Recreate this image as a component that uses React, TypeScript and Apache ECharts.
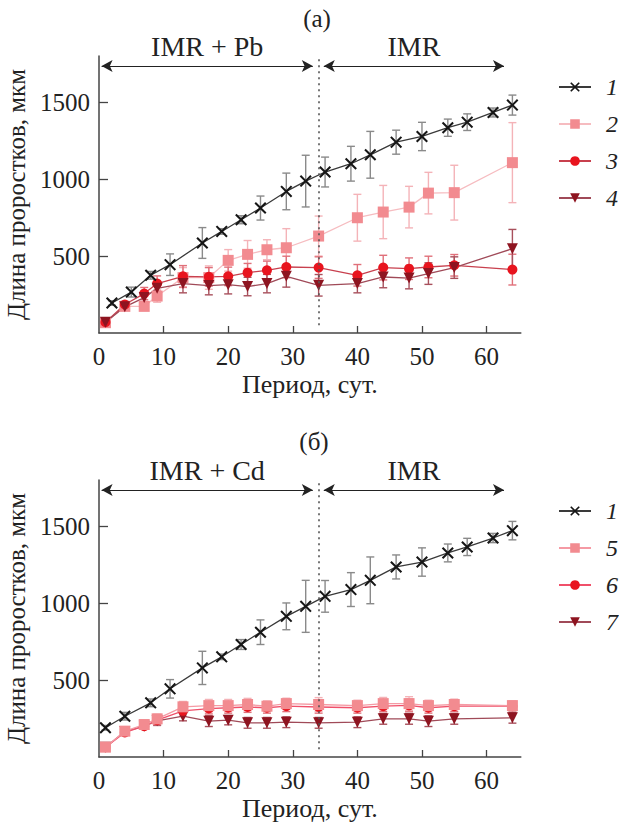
import React, { useEffect, useRef } from "react";
import * as echarts from "echarts";

// ---- Data (panel a) ----
const daysA1 = [2, 5, 8, 11, 16, 19, 22, 25, 29, 32, 35, 39, 42, 46, 50, 54, 57, 61, 64];
const lenA1 = [195, 266, 375, 444, 585, 660, 736, 812, 920, 987, 1046, 1100, 1158, 1240, 1277, 1334, 1370, 1433, 1481];
const errA1 = [15, 32, 25, 70, 100, 18, 26, 78, 119, 168, 97, 113, 152, 78, 92, 56, 54, 29, 65];

const daysA = [1, 4, 7, 9, 13, 17, 20, 23, 26, 29, 34, 40, 44, 48, 51, 55, 64];
const lenA2 = [67, 173, 173, 240, 360, 360, 472, 511, 541, 554, 630, 749, 786, 818, 909, 912, 1107];
const errA2 = [15, 25, 25, 40, 65, 76, 70, 90, 65, 124, 130, 152, 173, 135, 135, 178, 260];
const lenA3 = [70, 185, 256, 321, 368, 365, 368, 392, 407, 429, 425, 375, 425, 418, 429, 440, 412];
const errA3 = [10, 20, 40, 50, 70, 60, 60, 60, 60, 70, 70, 70, 80, 70, 70, 70, 100];
const lenA4 = [70, 170, 230, 290, 321, 308, 314, 302, 321, 368, 310, 321, 364, 357, 386, 425, 548];
const errA4 = [10, 20, 30, 40, 60, 60, 60, 60, 60, 70, 70, 60, 70, 70, 70, 70, 125];

// ---- Data (panel б) ----
const daysB1 = [1, 4, 8, 11, 16, 19, 22, 25, 29, 32, 35, 39, 42, 46, 50, 54, 57, 61, 64];
const lenB1 = [190, 265, 352, 443, 579, 651, 731, 811, 914, 979, 1044, 1088, 1148, 1235, 1267, 1326, 1365, 1423, 1471];
const errB1 = [15, 25, 25, 60, 108, 18, 32, 80, 87, 169, 103, 110, 152, 78, 92, 58, 56, 30, 60];

const daysB = [1, 4, 7, 9, 13, 17, 20, 23, 26, 29, 34, 40, 44, 48, 51, 55, 64];
const lenB5 = [64, 168, 211, 248, 326, 334, 334, 341, 330, 347, 341, 334, 347, 347, 334, 341, 334];
const errB5 = [10, 15, 25, 30, 35, 40, 40, 40, 35, 35, 45, 35, 40, 45, 35, 35, 30];
const lenB6 = [64, 160, 200, 240, 300, 315, 320, 325, 320, 330, 325, 320, 330, 335, 320, 330, 330];
const errB6 = [10, 15, 20, 30, 35, 35, 35, 35, 35, 35, 40, 35, 35, 40, 35, 35, 30];
const lenB7 = [64, 165, 200, 235, 265, 233, 239, 222, 222, 226, 222, 226, 248, 248, 233, 248, 255];
const errB7 = [10, 15, 20, 30, 30, 35, 30, 35, 35, 35, 35, 35, 35, 35, 35, 35, 35];

const xTicks = [0, 10, 20, 30, 40, 50, 60];
const yTicks = [500, 1000, 1500];
const switchDay = 34;
const legendA = ["1", "2", "3", "4"];
const legendB = ["1", "5", "6", "7"];

const FONT = "'Liberation Serif', 'Times New Roman', serif";
const X_SYMBOL = "path://M0,1.2L1.2,0L5,3.8L8.8,0L10,1.2L6.2,5L10,8.8L8.8,10L5,6.2L1.2,10L0,8.8L3.8,5Z";

const styles: Record<string, any> = {
  "1": { symbol: X_SYMBOL, size: 12, color: "#161616", line: "#3a3a3a", err: "#8a8a8a", rot: 0 },
  "2": { symbol: "rect", size: 11, color: "#f28b90", line: "#f6bcc0", err: "#f4b3b8", rot: 0 },
  "5": { symbol: "rect", size: 11, color: "#f28b90", line: "#f59aa4", err: "#f4b3b8", rot: 0 },
  "3": { symbol: "circle", size: 10, color: "#e8141e", line: "#c8404e", err: "#e0707a", rot: 0 },
  "6": { symbol: "circle", size: 10, color: "#e8141e", line: "#f0506a", err: "#e0707a", rot: 0 },
  "4": { symbol: "triangle", size: 11, color: "#8e1420", line: "#a04a58", err: "#a8505c", rot: 180 },
  "7": { symbol: "triangle", size: 11, color: "#8e1420", line: "#a04a58", err: "#a8505c", rot: 180 },
};

function makeSeries(name: string, days: number[], vals: number[], errs: number[], idx: number) {
  const st = styles[name];
  const line = {
    type: "line",
    name,
    xAxisIndex: idx,
    yAxisIndex: idx,
    data: days.map((d, i) => [d, vals[i]]),
    symbol: st.symbol,
    symbolSize: st.size,
    symbolRotate: st.rot,
    itemStyle: { color: st.color },
    lineStyle: { color: st.line, width: 1.3 },
    z: 3,
  };
  const err = {
    type: "custom",
    name: name + "-err",
    xAxisIndex: idx,
    yAxisIndex: idx,
    data: days.map((d, i) => [d, vals[i] - errs[i], vals[i] + errs[i]]),
    z: 2,
    silent: true,
    renderItem: (params: any, api: any) => {
      const x = api.value(0);
      const p1 = api.coord([x, api.value(2)]);
      const p2 = api.coord([x, api.value(1)]);
      const hw = 4;
      const s = { stroke: st.err, lineWidth: 1.4 };
      return {
        type: "group",
        children: [
          { type: "line", shape: { x1: p1[0], y1: p1[1], x2: p2[0], y2: p2[1] }, style: s },
          { type: "line", shape: { x1: p1[0] - hw, y1: p1[1], x2: p1[0] + hw, y2: p1[1] }, style: s },
          { type: "line", shape: { x1: p2[0] - hw, y1: p2[1], x2: p2[0] + hw, y2: p2[1] }, style: s },
        ],
      };
    },
  };
  return [err, line];
}

function markSeries(idx: number, leftLabel: string) {
  const arrowY = 1735;
  const lbl = { show: true, position: "middle", distance: 6, color: "#222", fontFamily: FONT, fontSize: 28 };
  return {
    type: "line",
    name: "marks" + idx,
    xAxisIndex: idx,
    yAxisIndex: idx,
    data: [],
    silent: true,
    markLine: {
      silent: true,
      animation: false,
      data: [
        [
          { coord: [switchDay, 50], symbol: "none", lineStyle: { type: [2, 4], color: "#555", width: 1.6 }, label: { show: false } },
          { coord: [switchDay, 1790], symbol: "none" },
        ],
        [
          { coord: [0.4, arrowY], symbol: "arrow", lineStyle: { type: "solid", color: "#222", width: 1.2 }, label: { ...lbl, formatter: leftLabel } },
          { coord: [33.1, arrowY], symbol: "arrow" },
        ],
        [
          { coord: [34.8, arrowY], symbol: "arrow", lineStyle: { type: "solid", color: "#222", width: 1.2 }, label: { ...lbl, formatter: "IMR" } },
          { coord: [62.7, arrowY], symbol: "arrow" },
        ],
      ],
      symbolSize: [9, 11],
    },
  };
}

function xAxis(idx: number) {
  return {
    type: "value",
    gridIndex: idx,
    min: 0,
    max: 65.3,
    interval: 10,
    name: "Период, сут.",
    nameLocation: "middle",
    nameGap: 38,
    nameTextStyle: { fontFamily: FONT, fontSize: 26, color: "#222" },
    axisLine: { lineStyle: { color: "#444", width: 1.5 } },
    axisTick: { show: true, inside: true, length: 7, customValues: xTicks.slice(1), lineStyle: { color: "#444", width: 1.3 } },
    axisLabel: {
      customValues: xTicks,
      margin: 11,
      fontFamily: FONT,
      fontSize: 25,
      color: "#222",
      formatter: (v: number) => (v % 10 === 0 ? String(v) : ""),
    },
    splitLine: { show: false },
  };
}

function yAxis(idx: number) {
  return {
    type: "value",
    gridIndex: idx,
    min: 0,
    max: 1800,
    interval: 500,
    name: "Длина проростков, мкм",
    nameLocation: "middle",
    nameGap: 68,
    nameTextStyle: { fontFamily: FONT, fontSize: 25, color: "#222" },
    axisLine: { show: true, lineStyle: { color: "#444", width: 1.5 } },
    axisTick: { show: true, inside: true, length: 9, customValues: yTicks, lineStyle: { color: "#444", width: 1.3 } },
    axisLabel: {
      customValues: yTicks,
      margin: 9,
      fontFamily: FONT,
      fontSize: 25,
      color: "#222",
      formatter: (v: number) => (v > 0 && v % 500 === 0 ? String(v) : ""),
    },
    splitLine: { show: false },
  };
}

function legend(data: string[], top: number) {
  return {
    data,
    orient: "vertical",
    left: 553,
    top,
    itemWidth: 32,
    itemHeight: 12,
    itemGap: 13,
    selectedMode: false,
    textStyle: { fontFamily: FONT, fontSize: 24, fontStyle: "italic", color: "#222", padding: [0, 0, 0, 10] },
  };
}

export default function App() {
  const ref = useRef<HTMLDivElement>(null);
  useEffect(() => {
    if (!ref.current) return;
    const chart = echarts.init(ref.current, null, { renderer: "svg" });
    const series: any[] = [
      ...makeSeries("2", daysA, lenA2, errA2, 0),
      ...makeSeries("3", daysA, lenA3, errA3, 0),
      ...makeSeries("4", daysA, lenA4, errA4, 0),
      ...makeSeries("1", daysA1, lenA1, errA1, 0),
      markSeries(0, "IMR + Pb"),
      ...makeSeries("7", daysB, lenB7, errB7, 1),
      ...makeSeries("6", daysB, lenB6, errB6, 1),
      ...makeSeries("5", daysB, lenB5, errB5, 1),
      ...makeSeries("1", daysB1, lenB1, errB1, 1),
      markSeries(1, "IMR + Cd"),
    ];
    chart.setOption({
      animation: false,
      backgroundColor: "#fff",
      grid: [
        { left: 99, top: 56, width: 421.8, height: 277, containLabel: false, outerBoundsMode: "none" },
        { left: 99, top: 480, width: 421.8, height: 277, containLabel: false, outerBoundsMode: "none" },
      ],
      xAxis: [xAxis(0), xAxis(1)],
      yAxis: [yAxis(0), yAxis(1)],
      legend: [legend(legendA, 70), legend(legendB, 494)],
      graphic: [
        { type: "text", x: 317, y: 18, style: { text: "(а)", font: `25px ${FONT}`, fill: "#222", align: "center", verticalAlign: "middle" } },
        { type: "text", x: 314, y: 441, style: { text: "(б)", font: `25px ${FONT}`, fill: "#222", align: "center", verticalAlign: "middle" } },
      ],
      series,
    });
    return () => chart.dispose();
  }, []);
  return <div ref={ref} style={{ position: "fixed", left: 0, top: 0, width: 619, height: 822 }} />;
}
